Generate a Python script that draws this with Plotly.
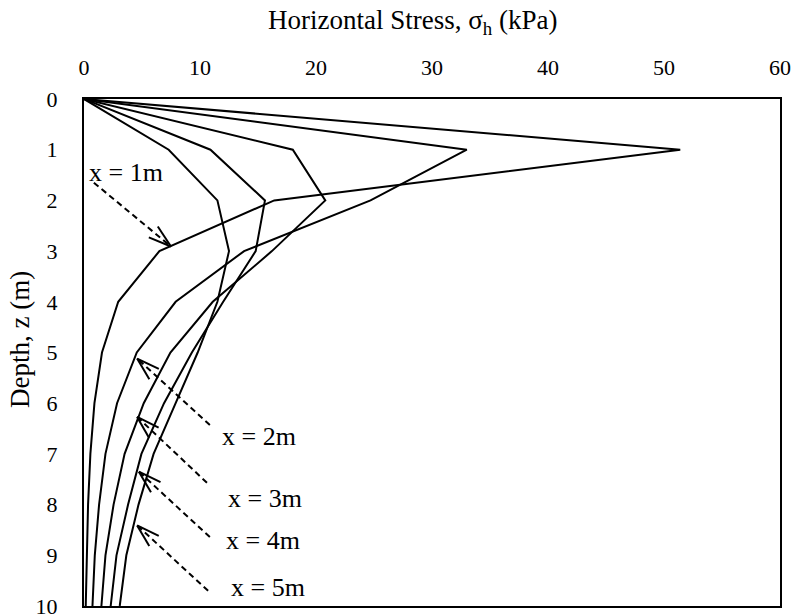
import math
import plotly.graph_objects as go

# ---- data ----
depth = [0, 1, 2, 3, 4, 5, 6, 7, 8, 9, 10]
stress_x1 = [0, 51.4, 16.4, 6.5, 2.95, 1.55, 0.9, 0.55, 0.35, 0.22, 0.15]
stress_x2 = [0, 33.0, 24.7, 13.8, 7.9, 4.55, 2.85, 1.85, 1.3, 0.93, 0.73]
stress_x3 = [0, 18.0, 20.8, 16.2, 11.1, 7.45, 5.15, 3.5, 2.55, 1.85, 1.5]
stress_x4 = [0, 10.9, 15.6, 14.8, 12.0, 9.3, 6.9, 4.95, 3.8, 2.8, 2.3]
stress_x5 = [0, 7.3, 11.5, 12.5, 11.5, 9.8, 7.9, 6.0, 4.7, 3.65, 3.08]
series_names = ["x = 1m", "x = 2m", "x = 3m", "x = 4m", "x = 5m"]
x_ticks = [0, 10, 20, 30, 40, 50, 60]
y_ticks = [0, 1, 2, 3, 4, 5, 6, 7, 8, 9, 10]
x_title = "Horizontal Stress, σ<sub>h</sub> (kPa)"
y_title = "Depth, z (m)"

# ---- label / arrow placement (stress, depth) ----
label_pos = [(3.6, 1.44), (15.1, 6.65), (15.6, 7.87), (15.4, 8.70), (15.9, 9.64)]
arrow_tail = [(0.85, 1.65), (10.85, 6.43), (10.6, 7.57), (10.85, 8.64), (10.7, 9.70)]
arrow_head = [(7.5, 2.91), (4.58, 5.12), (4.58, 6.27), (4.73, 7.35), (4.58, 8.41)]

FONT = "Liberation Serif"
W, H = 794, 616
ML, MR, MT, MB = 84, 14, 99, 10
PW, PH = W - ML - MR, H - MT - MB
XS = PW / 60.0   # px per kPa
YS = PH / 10.0   # px per m

fig = go.Figure()
for name, s in zip(series_names, [stress_x1, stress_x2, stress_x3, stress_x4, stress_x5]):
    fig.add_trace(go.Scatter(x=s, y=depth, mode="lines", name=name,
                             line=dict(color="black", width=2), showlegend=False))

shapes = []
for (tx, ty), (hx, hy) in zip(arrow_tail, arrow_head):
    shapes.append(dict(type="line", xref="x", yref="y", x0=tx, y0=ty, x1=hx, y1=hy,
                       line=dict(color="black", width=2, dash="6px,4px")))
    dx = (hx - tx) * XS
    dy = (hy - ty) * YS
    L = math.hypot(dx, dy)
    ux, uy = -dx / L, -dy / L
    for ang in (math.radians(17), math.radians(-17)):
        ax = ux * math.cos(ang) - uy * math.sin(ang)
        ay = ux * math.sin(ang) + uy * math.cos(ang)
        shapes.append(dict(type="line", xref="x", yref="y", x0=hx, y0=hy,
                           x1=hx + ax * 24 / XS, y1=hy + ay * 24 / YS,
                           line=dict(color="black", width=2)))

annotations = []
for name, (lx, ly) in zip(series_names, label_pos):
    annotations.append(dict(x=lx, y=ly, xref="x", yref="y", text=name, showarrow=False,
                            font=dict(family=FONT, size=26, color="black")))
# axis titles
annotations.append(dict(x=(412 - ML) / PW, y=1 + (MT - 22) / PH, xref="paper", yref="paper",
                        text=x_title, showarrow=False, xanchor="center", yanchor="middle",
                        font=dict(family=FONT, size=27, color="black")))
annotations.append(dict(x=(20 - ML) / PW, y=1 - (340 - MT) / PH, xref="paper", yref="paper",
                        text=y_title, showarrow=False, textangle=-90,
                        xanchor="center", yanchor="middle",
                        font=dict(family=FONT, size=27, color="black")))

tickfont = dict(family=FONT, size=22, color="black")
fig.update_layout(
    width=W, height=H,
    margin=dict(l=ML, r=MR, t=MT, b=MB, pad=0),
    paper_bgcolor="white", plot_bgcolor="white",
    font=dict(family=FONT, size=22, color="black"),
    shapes=shapes, annotations=annotations,
    xaxis=dict(side="top", range=[0, 60], tickvals=x_ticks, ticks="", showgrid=False,
               zeroline=False, showline=True, mirror=True, linecolor="black", linewidth=2,
               ticklabelstandoff=13, automargin=False, tickfont=tickfont,
               ticklabeloverflow="allow"),
    yaxis=dict(range=[10, 0], tickvals=y_ticks, ticks="", showgrid=False, zeroline=False,
               showline=True, mirror=True, linecolor="black", linewidth=2,
               ticklabelstandoff=20, automargin=False, tickfont=tickfont,
               ticklabeloverflow="allow"),
)

fig.write_html("out.html", config={"displayModeBar": False},
               post_script="document.body.style.margin='0';document.body.style.padding='0';")
